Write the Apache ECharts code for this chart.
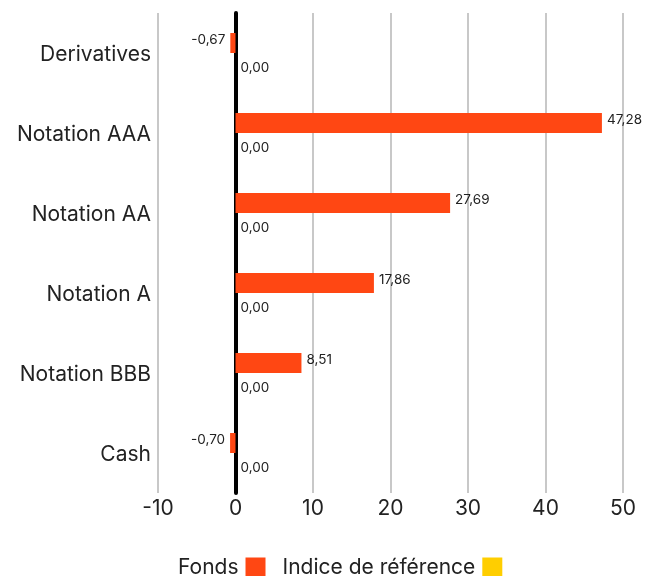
<!DOCTYPE html>
<html><head><meta charset="utf-8">
<script src="https://cdn.jsdelivr.net/npm/echarts@6/dist/echarts.min.js"></script>
<style>html,body{margin:0;padding:0;background:#fff}#c{width:659px;height:576px}</style>
</head><body><div id="c"></div>
<script>
const categories = ['Derivatives','Notation AAA','Notation AA','Notation A','Notation BBB','Cash'];
const fonds = [-0.67, 47.28, 27.69, 17.86, 8.51, -0.70];
const indice = [0, 0, 0, 0, 0, 0];
const seriesNames = ['Fonds','Indice de référence'];
const FONT = 'Inter';
const fmt = v => v.toFixed(2).replace('.', ',');
const chart = echarts.init(document.getElementById('c'));
chart.setOption({
  animation:false,
  textStyle:{fontFamily:FONT},
  grid:{left:158,right:36,top:13,bottom:83},
  legend:{
    left:173, top:552, align:'right', itemWidth:20, itemHeight:20, itemGap:17,
    icon:'rect',
    textStyle:{fontFamily:FONT,fontSize:21,color:'#222',padding:[0,2,0,0]},
    data:seriesNames
  },
  xAxis:{
    type:'value', min:-10, max:50, interval:10,
    axisLine:{show:false}, axisTick:{show:false},
    axisLabel:{fontFamily:FONT,fontSize:21,color:'#222',margin:5},
    splitLine:{show:true,lineStyle:{color:'#c8c8c8',width:2}}
  },
  yAxis:{
    type:'category', data:categories, inverse:true,
    axisLine:{show:true,onZero:true,lineStyle:{color:'#000',width:4}},
    axisTick:{show:false},
    axisLabel:{fontFamily:FONT,fontSize:21,color:'#222',margin:7,
      formatter:v=>'{a|'+v+'}',
      rich:{a:{fontFamily:FONT,fontSize:21,color:'#222',padding:[4,0,0,0]}}}
  },
  series:[
    {name:seriesNames[0],type:'bar',
     data:fonds.map(v=>v<0?{value:v,label:{position:'left'}}:v),
     barWidth:20,barGap:'0%',
     itemStyle:{color:'#FF4713'},
     label:{show:true,position:'right',distance:5,fontSize:13.5,color:'#222',fontFamily:FONT,offset:[0,-3],
       formatter:p=>fmt(p.value)}
    },
    {name:seriesNames[1],type:'bar',data:indice,barWidth:20,
     itemStyle:{color:'#FFCE00'},
     label:{show:true,position:'right',distance:5,fontSize:13.5,color:'#222',fontFamily:FONT,offset:[0,5],
       formatter:p=>fmt(p.value)}
    }
  ]
});
</script></body></html>
